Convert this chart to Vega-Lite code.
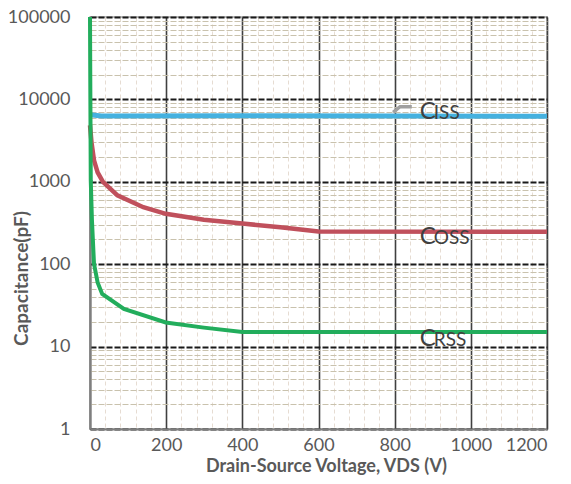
{
  "$schema": "https://vega.github.io/schema/vega-lite/v6.json",
  "width": 457,
  "height": 412,
  "autosize": "none",
  "padding": {"left": 90, "top": 17, "right": 24, "bottom": 55},
  "background": "white",
  "config": {
    "view": {"stroke": "#a6a6a6", "strokeWidth": 1.5},
    "font": "Lato"
  },
  "datasets": {
    "curves": [
      {"series": "Ciss", "V": 0, "pF": 6500},
      {"series": "Ciss", "V": 30, "pF": 6300},
      {"series": "Ciss", "V": 400, "pF": 6350},
      {"series": "Ciss", "V": 800, "pF": 6300},
      {"series": "Ciss", "V": 1200, "pF": 6250},
      {"series": "Coss", "V": 0, "pF": 4850},
      {"series": "Coss", "V": 4, "pF": 3000},
      {"series": "Coss", "V": 10.5, "pF": 1820},
      {"series": "Coss", "V": 20, "pF": 1300},
      {"series": "Coss", "V": 34, "pF": 1000},
      {"series": "Coss", "V": 72, "pF": 684},
      {"series": "Coss", "V": 140, "pF": 492},
      {"series": "Coss", "V": 199, "pF": 409},
      {"series": "Coss", "V": 299, "pF": 346},
      {"series": "Coss", "V": 400, "pF": 312},
      {"series": "Coss", "V": 500, "pF": 280},
      {"series": "Coss", "V": 600, "pF": 250},
      {"series": "Coss", "V": 1200, "pF": 248},
      {"series": "Crss", "V": 0, "pF": 100000},
      {"series": "Crss", "V": 1, "pF": 10000},
      {"series": "Crss", "V": 2, "pF": 1040},
      {"series": "Crss", "V": 5, "pF": 350},
      {"series": "Crss", "V": 10.5, "pF": 101},
      {"series": "Crss", "V": 20, "pF": 60},
      {"series": "Crss", "V": 32, "pF": 43.6},
      {"series": "Crss", "V": 89, "pF": 28.6},
      {"series": "Crss", "V": 199, "pF": 19.6},
      {"series": "Crss", "V": 299, "pF": 17},
      {"series": "Crss", "V": 400, "pF": 15},
      {"series": "Crss", "V": 1200, "pF": 15},
      {"series": "leader", "V": 796, "pF": 6980},
      {"series": "leader", "V": 814, "pF": 8150},
      {"series": "leader", "V": 845, "pF": 8150}
    ],
    "labels": [
      {"big": "C", "small": "ISS", "V": 866, "pF": 5740},
      {"big": "C", "small": "OSS", "V": 866, "pF": 178},
      {"big": "C", "small": "RSS", "V": 866, "pF": 10.2}
    ]
  },
  "layer": [
    {
      "data": {"name": "curves"},
      "mark": {"type": "point", "opacity": 0},
      "encoding": {
        "x": {
          "field": "V", "type": "quantitative",
          "scale": {"domain": [0, 1200], "nice": false, "zero": false},
          "axis": {
            "orient": "bottom",
            "values": [40, 80, 120, 160, 240, 280, 320, 360, 440, 480, 520, 560, 640, 680, 720, 760, 840, 880, 920, 960, 1040, 1080, 1120, 1160],
            "grid": true, "gridColor": "#e6dcd2", "gridDash": [4, 3], "gridWidth": 1,
            "labels": false, "ticks": false, "domain": false, "title": null
          }
        },
        "y": {
          "field": "pF", "type": "quantitative",
          "scale": {"type": "log", "domain": [1, 100000], "nice": false},
          "axis": {
            "orient": "left",
            "values": [2, 3, 4, 5, 6, 7, 8, 9, 20, 30, 40, 50, 60, 70, 80, 90, 200, 300, 400, 500, 600, 700, 800, 900, 2000, 3000, 4000, 5000, 6000, 7000, 8000, 9000, 20000, 30000, 40000, 50000, 60000, 70000, 80000, 90000],
            "grid": true, "gridColor": "#c9c2ad", "gridDash": [6, 2], "gridWidth": 1.2,
            "labels": false, "ticks": false, "domain": false, "title": null
          }
        }
      }
    },
    {
      "data": {"name": "curves"},
      "mark": {"type": "line", "interpolate": "linear"},
      "encoding": {
        "x": {
          "field": "V", "type": "quantitative",
          "scale": {"domain": [0, 1200], "nice": false, "zero": false},
          "axis": {
            "orient": "bottom",
            "values": [0, 200, 400, 600, 800, 1000, 1200],
            "format": "d",
            "grid": true, "gridColor": "#404040", "gridWidth": 1.6,
            "ticks": false, "labelPadding": 7, "labelFontSize": 18, "labelColor": "#595959",
            "domain": true, "domainColor": "#7f7f7f", "domainWidth": 2,
            "title": "Drain-Source Voltage, VDS (V)", "titleFontSize": 18, "titleFontWeight": "bold",
            "titleColor": "#595959", "titleBaseline": "top", "titleY": 28, "titleX": 236
          }
        },
        "y": {
          "field": "pF", "type": "quantitative",
          "scale": {"type": "log", "domain": [1, 100000], "nice": false},
          "axis": {
            "orient": "left",
            "values": [1, 10, 100, 1000, 10000, 100000],
            "format": "d",
            "grid": true, "gridColor": "#1a1a1a", "gridDash": [6, 2], "gridWidth": 1.8,
            "ticks": false, "labelPadding": 20, "labelFontSize": 18, "labelColor": "#595959",
            "domain": true, "domainColor": "#7f7f7f", "domainWidth": 2,
            "title": "Capacitance(pF)", "titleFontSize": 19, "titleFontWeight": "bold",
            "titleColor": "#595959", "titleBaseline": "alphabetic", "titleX": -63, "titleY": 261
          }
        },
        "color": {
          "field": "series", "type": "nominal",
          "scale": {"domain": ["Ciss", "Coss", "Crss", "leader"], "range": ["#45b1df", "#c0505c", "#22ad5c", "#a0a0a0"]},
          "legend": null
        },
        "strokeWidth": {
          "field": "series", "type": "nominal",
          "scale": {"domain": ["Ciss", "Coss", "Crss", "leader"], "range": [5, 3.5, 3.5, 1.5]},
          "legend": null
        }
      }
    },
    {
      "data": {"name": "labels"},
      "mark": {"type": "text", "align": "left", "baseline": "alphabetic", "fontSize": 24, "color": "#404040"},
      "encoding": {
        "x": {"field": "V", "type": "quantitative", "axis": null},
        "y": {"field": "pF", "type": "quantitative", "axis": null},
        "text": {"field": "big"}
      }
    },
    {
      "data": {"name": "labels"},
      "mark": {"type": "text", "align": "left", "baseline": "alphabetic", "fontSize": 19, "dx": 14, "color": "#404040"},
      "encoding": {
        "x": {"field": "V", "type": "quantitative", "axis": null},
        "y": {"field": "pF", "type": "quantitative", "axis": null},
        "text": {"field": "small"}
      }
    }
  ],
  "resolve": {"axis": {"x": "independent", "y": "independent"}}
}
